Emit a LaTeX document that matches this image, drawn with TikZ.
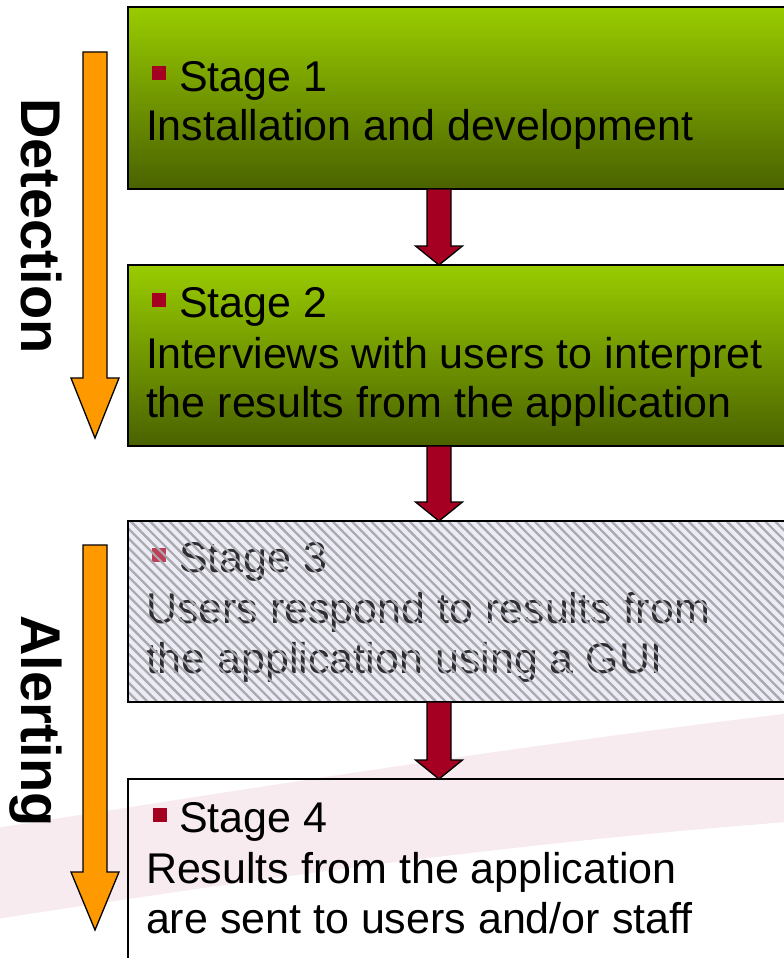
\documentclass[tikz,border=0pt]{standalone}
\usepackage{fontspec}
\setmainfont{Liberation Sans}
\usetikzlibrary{calc,patterns.meta}

\definecolor{greentop}{RGB}{153,204,0}
\definecolor{greenbot}{RGB}{74,98,0}
\definecolor{stagered}{RGB}{165,0,33}
\definecolor{flowor}{RGB}{255,153,0}
\definecolor{swoosh}{RGB}{248,235,239}
\definecolor{hatchbg}{RGB}{236,236,246}
\definecolor{hatchln}{RGB}{170,170,175}
\definecolor{dimtext}{RGB}{45,45,50}

% block arrow: style, start, tip, shaft half width, head half width, head length
\newcommand\blockarrow[6]{%
  \draw[#1] let \p1=(#2), \p2=(#3) in
    (\x1-#4,\y1) -- (\x1+#4,\y1) -- (\x1+#4,\y2+#6) -- (\x1+#5,\y2+#6)
    -- (\x1,\y2) -- (\x1-#5,\y2+#6) -- (\x1-#4,\y2+#6) -- cycle;}

\tikzset{
  stagebox/.style={anchor=north west, minimum width=700pt, inner sep=0pt,
    outer sep=0pt, line width=1.8pt, draw=black},
  greenbox/.style={stagebox, top color=greentop, bottom color=greenbot},
  txt/.style={anchor=base west, inner sep=0pt, outer sep=0pt,
    font=\fontsize{43}{50}\selectfont},
  bulletsq/.style={fill=stagered, minimum size=14pt, inner sep=0pt, outer sep=0pt},
  sidelabel/.style={rotate=-90, anchor=base, inner sep=0pt,
    font=\bfseries\fontsize{56}{60}\selectfont},
  redarrow/.style={fill=stagered, draw=black, line width=1.3pt, line join=miter},
  orarrow/.style={fill=flowor, draw=black, line width=1.3pt, line join=miter},
  hatch/.style={pattern={Lines[angle=-45, distance=6.8pt, line width=2pt]},
    pattern color=hatchln},
}

\begin{document}
\begin{tikzpicture}[x=1pt, y=1pt]
\useasboundingbox (0,0) rectangle (784,-958);
\fill[white] (0,0) rectangle (784,-958);
\begin{scope}
\clip (0,0) rectangle (784,-958);

% pale swoosh in the background
\fill[swoosh] (-10,-829) .. controls (260,-787) and (520,-745) .. (800,-712)
  -- (800,-821) .. controls (520,-842) and (260,-878) .. (-10,-920) -- cycle;

% stage boxes
\node[greenbox, minimum height=182pt] (b1) at (128,-7) {};
\node[greenbox, minimum height=181pt] (b2) at (128,-265) {};
\node[stagebox, draw=none, minimum height=181pt, fill=hatchbg, postaction={hatch}] (b3) at (128,-521) {};
\node[stagebox, minimum height=200pt, line width=1.3pt] (b4) at (128,-779) {};

% stage 1
\node[bulletsq] (q1) at (159,-73) {};
\node[txt] (t1a) at (179,-91) {Stage 1};
\node[txt] (t1b) at (146,-140) {Installation and development};

% stage 2
\node[bulletsq] (q2) at (159,-299.5) {};
\node[txt] (t2a) at (179,-317) {Stage 2};
\node[txt] (t2b) at (146,-368) {Interviews with users to interpret};
\node[txt] (t2c) at (146,-417) {the results from the application};

% stage 3 (hatched, the hatching runs over its text too)
\node[bulletsq, fill=stagered!75!white] (q3) at (159,-555) {};
\node[txt, text=dimtext] (t3a) at (179,-572) {Stage 3};
\node[txt, text=dimtext] (t3b) at (146,-623) {Users respond to results from};
\node[txt, text=dimtext] (t3c) at (146,-673) {the application using a GUI};
\fill[hatch, fill opacity=0.3] (b3.north west) rectangle (b3.south east);
\draw[line width=1.8pt] (b3.north west) rectangle (b3.south east);

% stage 4
\node[bulletsq] (q4) at (160,-815) {};
\node[txt] (t4a) at (179,-832) {Stage 4};
\node[txt] (t4b) at (146,-883) {Results from the application};
\node[txt] (t4c) at (146,-933) {are sent to users and/or staff};

% connectors between stages
\coordinate (a1s) at ([xshift=311pt]b1.south west);
\coordinate (a1e) at ([xshift=311pt]b2.north west);
\coordinate (a2s) at ([xshift=311pt]b2.south west);
\coordinate (a2e) at ([xshift=311pt]b3.north west);
\coordinate (a3s) at ([xshift=311pt]b3.south west);
\coordinate (a3e) at ([xshift=311pt]b4.north west);
\blockarrow{redarrow}{a1s}{a1e}{12pt}{23.5pt}{19pt}
\blockarrow{redarrow}{a2s}{a2e}{12pt}{23.5pt}{19pt}
\blockarrow{redarrow}{a3s}{a3e}{12pt}{23.5pt}{19pt}

% phase arrows
\coordinate (dtop) at (95,-52);
\coordinate (dtip) at (95,-438);
\coordinate (atop) at (95,-545);
\coordinate (atip) at (95,-930);
\blockarrow{orarrow}{dtop}{dtip}{12pt}{24pt}{60pt}
\blockarrow{orarrow}{atop}{atip}{12pt}{24pt}{58pt}

\node[sidelabel] (det) at (21,-226) {Detection};
\node[sidelabel] (alr) at (21,-721) {Alerting};
\end{scope}
\end{tikzpicture}
\end{document}
